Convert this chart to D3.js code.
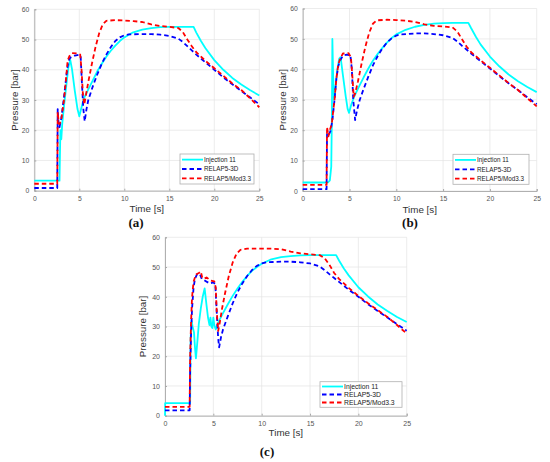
<!DOCTYPE html>
<html><head><meta charset="utf-8">
<script src="https://cdn.jsdelivr.net/npm/d3@7/dist/d3.min.js"></script>
<style>body{margin:0;background:#fff;} svg{display:block;}</style>
</head><body>
<svg id="chart" width="550" height="462"></svg>
<script>
// ---------------- DATA ----------------
const seriesNames = ["Injection 11", "RELAP5-3D", "RELAP5/Mod3.3"];
const xTicks = [0, 5, 10, 15, 20, 25];
const yTicks = [0, 10, 20, 30, 40, 50, 60];
const panelLabels = ["(a)", "(b)", "(c)"];

const injA = [[0,3.3],[2.8,3.3],[2.85,12],[2.9,20],[3.0,17],[3.1,22],[3.3,28],[3.6,36],[3.8,41],[4.0,43.2],[4.2,40],[4.5,33],[4.8,27],[5.0,24.6],[5.2,27],[5.5,30.5],[6.0,33.5],[6.5,36.5],[7.0,39.5],[7.5,42],[8.0,44.3],[8.5,46.3],[9.0,48],[9.5,49.5],[10,50.7],[10.5,51.6],[11,52.4],[12,53.3],[13,53.8],[14,54.1],[15,54.2],[16,54.2],[17,54.2],[17.7,54.2],[18,52.3],[18.5,49.6],[19,47.2],[20,43.2],[21,40],[22,37.3],[23,35.1],[24,33.2],[25,31.5]];
const r3dA = [[0,0.9],[2.55,0.9],[2.6,27],[2.7,22],[2.8,21],[3.0,24],[3.3,31],[3.6,39],[3.8,43],[4.0,44],[4.5,44.7],[5.0,45],[5.15,44.5],[5.3,35],[5.45,27],[5.6,23],[5.8,27],[6.0,30],[6.5,34.5],[7.0,38.5],[7.5,42],[8.0,45],[8.5,47.5],[9.0,49.5],[9.5,50.7],[10,51.4],[10.5,51.7],[12,51.8],[13,51.8],[14,51.6],[15,51.2],[16,50.3],[16.5,49.2],[17,47.8],[17.5,46.4],[18,45],[19,42.5],[20,40],[21,37.5],[22,35.2],[23,33],[24,30.8],[25,28.6]];
const mod33A = [[0,2.3],[2.55,2.3],[2.6,26],[2.7,23],[2.8,22],[3.0,23.5],[3.3,30],[3.5,36],[3.7,43],[3.9,44.5],[4.2,45.5],[4.8,45.4],[5.1,45],[5.25,40],[5.4,32],[5.55,28.5],[5.7,31],[6.0,36],[6.4,42],[6.8,47.5],[7.2,52],[7.6,55],[8.0,56.2],[9,56.4],[10,56.3],[11,56.1],[12,55.8],[13,55],[14,54.5],[15,54.2],[16,53.8],[16.5,52.5],[17,50],[17.5,47.8],[18,45.8],[19,43],[20,40.5],[21,38],[22,35.5],[23,33.3],[24,30.5],[25,27.6]];

const injB = [[0,2.8],[2.7,2.8],[2.9,3.5],[3.05,8],[3.12,25],[3.17,50],[3.25,38],[3.35,30],[3.5,34],[3.7,40],[3.9,43.5],[4.05,44],[4.3,38],[4.6,31],[4.8,27],[4.95,25.7],[5.2,28.5],[5.5,31],[6.0,34.2],[6.5,37.3],[7.0,40.2],[7.5,42.8],[8.0,45],[8.5,47],[9,48.8],[9.5,50.3],[10,51.5],[11,53],[12,54],[13,54.6],[14,55],[15,55.2],[16,55.3],[17,55.3],[17.7,55.3],[18,53.5],[18.5,50.7],[19,48.2],[20,44.2],[21,41],[22,38.3],[23,36.1],[24,34.2],[25,32.5]];
const r3dB = [[0,0.6],[2.55,0.6],[2.6,19],[2.8,18.5],[3.0,20],[3.2,24],[3.4,30],[3.6,37],[3.8,41],[4.0,43],[4.3,44.5],[4.7,44.8],[5.1,44.6],[5.25,40],[5.4,30],[5.6,23.3],[5.8,26.5],[6.1,30],[6.5,33.5],[7.0,37.5],[7.5,41.3],[8.0,44.3],[8.5,46.8],[9,48.8],[9.5,50.2],[10,51.1],[10.5,51.5],[12,51.8],[13,51.8],[14,51.6],[15,51.2],[16,50.3],[16.5,49.2],[17,47.8],[17.5,46.5],[18,45.2],[19,42.7],[20,40.3],[21,37.8],[22,35.4],[23,33.2],[24,30.8],[25,28.5]];
const mod33B = [[0,2.0],[2.55,2.0],[2.6,21],[2.75,18],[2.9,20],[3.1,22],[3.4,30],[3.6,37],[3.8,41.5],[4.0,43.5],[4.3,45.2],[4.9,45.3],[5.15,44],[5.3,38],[5.45,31],[5.6,32],[5.9,36],[6.3,42],[6.7,47.5],[7.1,52],[7.5,55],[7.9,56.1],[9,56.3],[10,56.2],[11,56],[12,55.6],[13,54.8],[14,54.3],[15,54.1],[16,53.8],[16.5,52.5],[17,50],[17.5,47.5],[18,45.6],[19,43],[20,40.5],[21,38],[22,35.5],[23,33.2],[24,30.5],[25,27.8]];

const injC = [[0,0],[0.02,4.2],[2.6,4.2],[2.65,26],[2.75,32],[2.85,30],[3.0,28],[3.1,23],[3.2,19.3],[3.35,25],[3.5,31],[3.7,36],[3.9,40],[4.1,42.8],[4.3,37],[4.45,33],[4.6,30.5],[4.7,33],[4.8,30],[4.9,29.5],[5.0,33],[5.1,30.5],[5.25,29],[5.4,30.5],[5.6,32],[6.0,34.5],[6.5,37.5],[7.0,40.3],[7.5,42.8],[8.0,45],[8.5,47],[9,48.7],[9.5,50],[10,51.1],[11,52.6],[12,53.3],[13,53.7],[14,53.9],[15,54],[16,54],[17,54],[17.7,54],[18,52.2],[18.5,49.5],[19,47.2],[20,43.2],[21,40.1],[22,37.4],[23,35.2],[24,33.2],[25,31.5]];
const r3dC = [[0,1.8],[2.55,1.8],[2.6,15],[2.7,28],[2.8,36],[2.95,43],[3.1,46],[3.3,47.5],[3.6,47.7],[3.8,46],[4.1,45.5],[4.6,44.5],[5.0,44.8],[5.2,44.3],[5.35,35],[5.5,26],[5.6,23],[5.8,26.5],[6.0,29],[6.5,33.5],[7.0,37.8],[7.5,41.5],[8.0,44.5],[8.5,47],[9,49],[9.5,50.4],[10,51.2],[10.5,51.6],[12,51.8],[13,51.8],[14,51.6],[15,51.2],[16,50.2],[16.5,49],[17,47.6],[17.5,46.3],[18,45],[19,42.4],[20,40],[21,37.5],[22,35.2],[23,33],[24,30.8],[25,28.6]];
const mod33C = [[0,3.0],[2.55,3.0],[2.6,20],[2.7,32],[2.8,40],[2.95,45],[3.2,47.5],[3.5,48],[3.7,48.5],[3.85,46.5],[4.0,46],[4.3,46.5],[4.7,45.5],[5.1,45.2],[5.25,43],[5.35,35],[5.5,28.5],[5.65,31],[5.9,36],[6.2,41],[6.6,47],[7.0,51.5],[7.4,54.5],[7.8,55.8],[8.5,56.2],[10,56.2],[11,56.2],[12,56],[13,55.2],[14,54.6],[15,54.3],[16,54],[16.5,53],[17,50.8],[17.5,48],[18,46],[19,43],[20,40.3],[21,37.8],[22,35.5],[23,33.2],[24,30.5],[25,27.6]];

// ---------------- LAYOUT / STYLE ----------------
const styles = [
  {color:"#00FFFF", dash:null},
  {color:"#0000FF", dash:"4.5,3"},
  {color:"#FF0000", dash:"4.5,3"}
];
const panels = [
  {series:[injA, r3dA, mod33A], x0:34.3, x1:259.3, y0:190.7, y1:9.3, ylabX:15, xlabY:212, capX:136, capY:227,
   leg:{x:180, y:154, w:74, h:30, fs:6.3}, fs:6.8},
  {series:[injB, r3dB, mod33B], x0:302.7, x1:536.7, y0:191, y1:8.5, ylabX:283, xlabY:212.5, capX:410, capY:227,
   leg:{x:453, y:154.3, w:76, h:30, fs:6.3}, fs:6.8},
  {series:[injC, r3dC, mod33C], x0:165, x1:406.7, y0:415.7, y1:237.3, ylabX:143, xlabY:436, capX:267, capY:456,
   leg:{x:320, y:381.7, w:82, h:25.6, fs:6.8}, fs:7}
];

const svg = d3.select("#chart");

panels.forEach((p, i) => {
  const x = d3.scaleLinear().domain([0, 25]).range([p.x0, p.x1]);
  const y = d3.scaleLinear().domain([0, 60]).range([p.y0, p.y1]);
  const g = svg.append("g");

  // grid
  g.append("g").selectAll("line").data(xTicks).join("line")
    .attr("x1", d => x(d)).attr("x2", d => x(d)).attr("y1", p.y0).attr("y2", p.y1)
    .attr("stroke", "#e4e4e4").attr("stroke-width", 0.7);
  g.append("g").selectAll("line").data(yTicks).join("line")
    .attr("y1", d => y(d)).attr("y2", d => y(d)).attr("x1", p.x0).attr("x2", p.x1)
    .attr("stroke", "#e4e4e4").attr("stroke-width", 0.7);

  // axes (inward ticks, MATLAB style)
  const xAxis = d3.axisBottom(x).tickValues(xTicks).tickSize(-2).tickPadding(5).tickFormat(d3.format("d"));
  const yAxis = d3.axisLeft(y).tickValues(yTicks).tickSize(-2).tickPadding(5).tickFormat(d3.format("d"));
  const gx = g.append("g").attr("transform", `translate(0,${p.y0})`).call(xAxis);
  const gy = g.append("g").attr("transform", `translate(${p.x0},0)`).call(yAxis);
  [gx, gy].forEach(a => {
    a.select(".domain").attr("stroke", "#a8a8a8").attr("stroke-width", 0.9);
    a.selectAll(".tick line").attr("stroke", "#a8a8a8");
    a.selectAll(".tick text").attr("fill", "#555").attr("font-size", p.fs)
      .attr("font-family", "Liberation Sans, Arial, sans-serif");
  });
  gx.selectAll(".tick text").attr("dy", "0.75em");

  // lines
  const line = d3.line().x(d => x(d[0])).y(d => y(d[1]));
  p.series.forEach((s, k) => {
    const path = g.append("path").datum(s).attr("d", line)
      .attr("fill", "none").attr("stroke", styles[k].color)
      .attr("stroke-width", 1.8).attr("stroke-linejoin", "round");
    if (styles[k].dash) path.attr("stroke-dasharray", styles[k].dash);
  });

  // axis labels
  g.append("text").attr("x", (p.x0 + p.x1) / 2).attr("y", p.xlabY)
    .attr("text-anchor", "middle").attr("font-size", 9.8).attr("fill", "#333")
    .attr("font-family", "Liberation Sans, Arial, sans-serif").text("Time [s]");
  g.append("text")
    .attr("transform", `translate(${p.ylabX},${(p.y0 + p.y1) / 2}) rotate(-90)`)
    .attr("text-anchor", "middle").attr("dy", "0.35em").attr("font-size", 9.8).attr("fill", "#333")
    .attr("font-family", "Liberation Sans, Arial, sans-serif").text("Pressure [bar]");

  // legend
  const L = p.leg;
  const lg = g.append("g");
  lg.append("rect").attr("x", L.x).attr("y", L.y).attr("width", L.w).attr("height", L.h)
    .attr("fill", "#fff").attr("stroke", "#b0b0b0").attr("stroke-width", 0.8);
  const rowH = L.h / 3.2;
  seriesNames.forEach((nm, k) => {
    const cy = L.y + rowH * (k + 0.6);
    const ln = lg.append("line").attr("x1", L.x + 2).attr("x2", L.x + 23)
      .attr("y1", cy).attr("y2", cy).attr("stroke", styles[k].color).attr("stroke-width", 1.8);
    if (styles[k].dash) ln.attr("stroke-dasharray", styles[k].dash);
    lg.append("text").attr("x", L.x + 24).attr("y", cy).attr("dy", "0.35em")
      .attr("font-size", L.fs).attr("fill", "#222")
      .attr("font-family", "Liberation Sans, Arial, sans-serif").text(nm);
  });

  // caption
  g.append("text").attr("x", p.capX).attr("y", p.capY).attr("text-anchor", "middle")
    .attr("font-size", 13).attr("font-weight", "bold").attr("fill", "#111")
    .attr("font-family", "Liberation Serif, Times New Roman, serif").text(panelLabels[i]);
});
</script>
</body></html>
